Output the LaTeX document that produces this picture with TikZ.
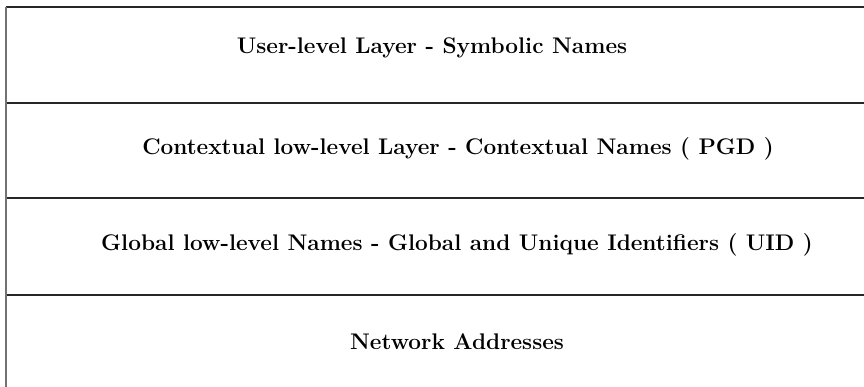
\documentclass[tikz,border=0pt]{standalone}
\begin{document}
\begin{tikzpicture}[x=1pt,y=1pt,
  rule/.style={line width=1.2pt,black!85},
  edge/.style={line width=1.6pt,black!55},
  label/.style={font=\fontsize{22.6}{26}\selectfont\bfseries,inner sep=0pt}]
\useasboundingbox (0,0) rectangle (864,-387);
% layer boundaries
\coordinate (l0) at (6,-7);
\coordinate (l1) at (6,-103);
\coordinate (l2) at (6,-198);
\coordinate (l3) at (6,-295);
\coordinate (lb) at (6,-387);
\draw[rule] (l0) -- ++(858,0);
\draw[rule] (l1) -- ++(858,0);
\draw[rule] (l2) -- ++(858,0);
\draw[rule] (l3) -- ++(858,0);
\draw[edge] (l0) -- (lb);
% layer names
\node[label] (t1) at (432,-48) {User-level Layer - Symbolic Names};
\node[label] (t2) at (458,-149) {Contextual low-level Layer - Contextual Names ( PGD )};
\node[label] (t3) at (457,-245) {Global low-level Names - Global and Unique Identifiers ( UID )};
\node[label] (t4) at (457,-342) {Network Addresses};
\end{tikzpicture}
\end{document}
